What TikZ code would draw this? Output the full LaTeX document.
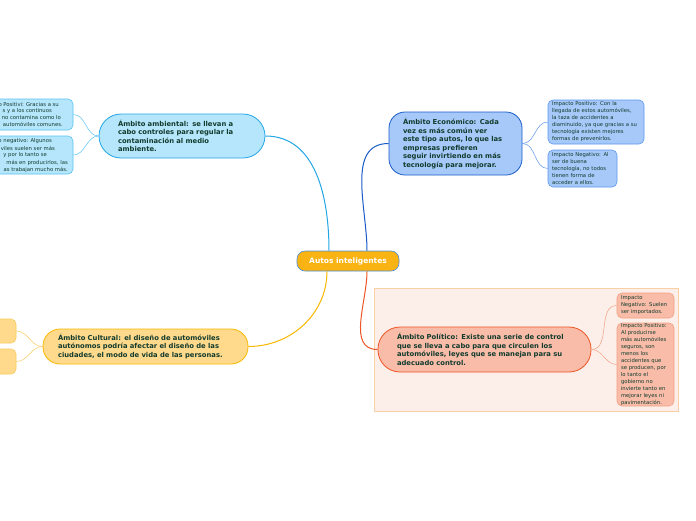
\documentclass[tikz,border=0pt]{standalone}
\usepackage{fontspec}
\setmainfont{DejaVu Sans}
\definecolor{txt}{HTML}{123B2D}
\definecolor{cenfill}{HTML}{F9B312}
\definecolor{cenline}{HTML}{4A8FD8}
\definecolor{ambfill}{HTML}{B5E6FB}
\definecolor{ambline}{HTML}{22A6E6}
\definecolor{ambsub}{HTML}{58C4F2}
\definecolor{ecofill}{HTML}{A6C9F9}
\definecolor{ecoline}{HTML}{1A5CC8}
\definecolor{ecosub}{HTML}{5E96EE}
\definecolor{culfill}{HTML}{FFDA8C}
\definecolor{culline}{HTML}{F8B800}
\definecolor{culsub}{HTML}{F7CB5A}
\definecolor{polfill}{HTML}{F8BCA8}
\definecolor{polline}{HTML}{EE5526}
\definecolor{polsub}{HTML}{F3A184}
\definecolor{polbg}{HTML}{FCEEE8}
\definecolor{polbgline}{HTML}{F9CFA6}
\tikzset{
  mainbox/.style={draw, line width=0.8pt, align=left, text=txt,
    font=\fontsize{6.8}{8.5}\selectfont\bfseries, inner ysep=0pt},
  subbox/.style={draw, line width=0.6pt, rounded corners=5pt, align=left, text=txt,
    font=\fontsize{5.3}{7}\selectfont, inner xsep=4pt, inner ysep=0pt},
  cuttext/.style={text=txt, font=\fontsize{5.3}{7}\selectfont, inner sep=0pt, anchor=east},
  mainlink/.style={line width=1pt},
  sublink/.style={line width=0.5pt},
}
\begin{document}
\begin{tikzpicture}[x=1pt,y=-1pt]
\clip (0,0) rectangle (696,520);
\fill[white] (0,0) rectangle (696,520);
% political background
\draw[fill=polbg, draw=polbgline, line width=0.8pt] (374,288) rectangle (678,411);

% central
\node[draw=cenline, fill=cenfill, rounded corners=8pt, line width=0.6pt,
  minimum width=102pt, minimum height=20pt, inner sep=0pt, text=white,
  font=\fontsize{7.5}{9}\selectfont\bfseries] (c) at (348,261) {Autos inteligentes};

% ambiental
\node[mainbox, fill=ambfill, draw=ambline, rounded corners=22pt, minimum width=166pt,
  minimum height=44pt, text width=128pt, inner xsep=19pt] (amb) at (182,136)
  {Ámbito ambiental: se llevan a\\cabo controles para regular la\\contaminación al medio\\ambiente.};
\node[subbox, fill=ambfill, draw=ambsub, minimum width=133pt, minimum height=31pt] (amb1) at (6.5,114.5) {};
\node[subbox, fill=ambfill, draw=ambsub, minimum width=133pt, minimum height=38pt] (amb2) at (6.5,155) {};
\node[cuttext] (a1l1) at (59,105) {Impacto Positivi: Gracias a su};
\node[cuttext] (a1l2) at (52,111.5) {s y a los continuos};
\node[cuttext] (a1l3) at (61,118) {no contamina como lo};
\node[cuttext] (a1l4) at (63,124.5) {automóviles comunes.};
\node[cuttext] (a2l1) at (52,141.5) {Impacto negativo: Algunos};
\node[cuttext] (a2l2) at (55,148.5) {viles suelen ser más};
\node[cuttext] (a2l3) at (47,155.5) {y por lo tanto se};
\node[cuttext] (a2l4) at (68,162.5) {más en producirlos, las};
\node[cuttext] (a2l5) at (68,169.5) {as trabajan mucho más.};

% economico
\node[mainbox, fill=ecofill, draw=ecoline, rounded corners=16pt, minimum width=133pt,
  minimum height=63pt, text width=105pt, inner xsep=14pt] (eco) at (455.5,143.5)
  {Ámbito Económico: Cada\\vez es más común ver\\este tipo autos, lo que las\\empresas prefieren\\seguir invirtiendo en más\\tecnología para mejorar.};
\node[subbox, fill=ecofill, draw=ecosub, minimum width=96pt, minimum height=44pt,
  text width=88pt] (eco1) at (596,122)
  {Impacto Positivo: Con la\\llegada de estos automóviles,\\la taza de accidentes a\\diaminuido, ya que gracias a su\\tecnología existen mejores\\formas de prevenirlos.};
\node[subbox, fill=ecofill, draw=ecosub, minimum width=69pt, minimum height=37pt,
  text width=61pt] (eco2) at (582.5,168.5)
  {Impacto Negativo: Al\\ser de buena\\tecnología, no todos\\tienen forma de\\acceder a ellos.};

% cultural
\node[mainbox, fill=culfill, draw=culline, rounded corners=17pt, minimum width=205pt,
  minimum height=35pt, text width=175pt, inner xsep=15pt] (cul) at (145.5,346.5)
  {Ámbito Cultural: el diseño de automóviles\\autónomos podría afectar el diseño de las\\ciudades, el modo de vida de las personas.};
\node[subbox, fill=culfill, draw=culsub, minimum width=56pt, minimum height=24pt] (cul1) at (-12,331) {};
\node[subbox, fill=culfill, draw=culsub, minimum width=56pt, minimum height=25pt] (cul2) at (-12,361.5) {};

% politico
\node[mainbox, fill=polfill, draw=polline, rounded corners=22pt, minimum width=213pt,
  minimum height=45pt, text width=175pt, inner xsep=19pt] (pol) at (484.5,349.5)
  {Ámbito Político: Existe una serie de control\\que se lleva a cabo para que circulen los\\automóviles, leyes que se manejan para su\\adecuado control.};
\node[subbox, fill=polfill, draw=polsub, minimum width=57pt, minimum height=25pt,
  text width=49pt] (pol1) at (645.5,305.5)
  {Impacto\\Negativo: Suelen\\ser importados.};
\node[subbox, fill=polfill, draw=polsub, minimum width=57pt, minimum height=83pt,
  text width=49pt] (pol2) at (645.5,364.5)
  {Impacto Positivo:\\Al producirse\\más automóviles\\seguros, son\\menos los\\accidentes que\\se producen, por\\lo tanto el\\gobierno no\\invierte tanto en\\mejorar leyes ni\\pavimentación.};

% main links
\draw[mainlink, ambline] ([xshift=-19pt]c.north) to[out=90,in=0] (amb.east);
\draw[mainlink, ecoline] ([xshift=19pt]c.north) to[out=90,in=180] (eco.west);
\draw[mainlink, culline] ([xshift=-21pt]c.south) to[out=-90,in=0] (cul.east);
\draw[mainlink, polline] ([xshift=19pt]c.south) to[out=-90,in=180] (pol.west);

% sub links
\draw[sublink, ambsub] (amb.west) to[out=180,in=0] (amb1.east);
\draw[sublink, ambsub] (amb.west) to[out=180,in=0] (amb2.east);
\draw[sublink, ecosub] (eco.east) to[out=0,in=180] (eco1.west);
\draw[sublink, ecosub] (eco.east) to[out=0,in=180] (eco2.west);
\draw[sublink, culsub] (cul.west) to[out=180,in=0] (cul1.east);
\draw[sublink, culsub] (cul.west) to[out=180,in=0] (cul2.east);
\draw[sublink, polsub] (pol.east) to[out=0,in=180] (pol1.west);
\draw[sublink, polsub] (pol.east) to[out=0,in=180] (pol2.west);
\end{tikzpicture}
\end{document}
